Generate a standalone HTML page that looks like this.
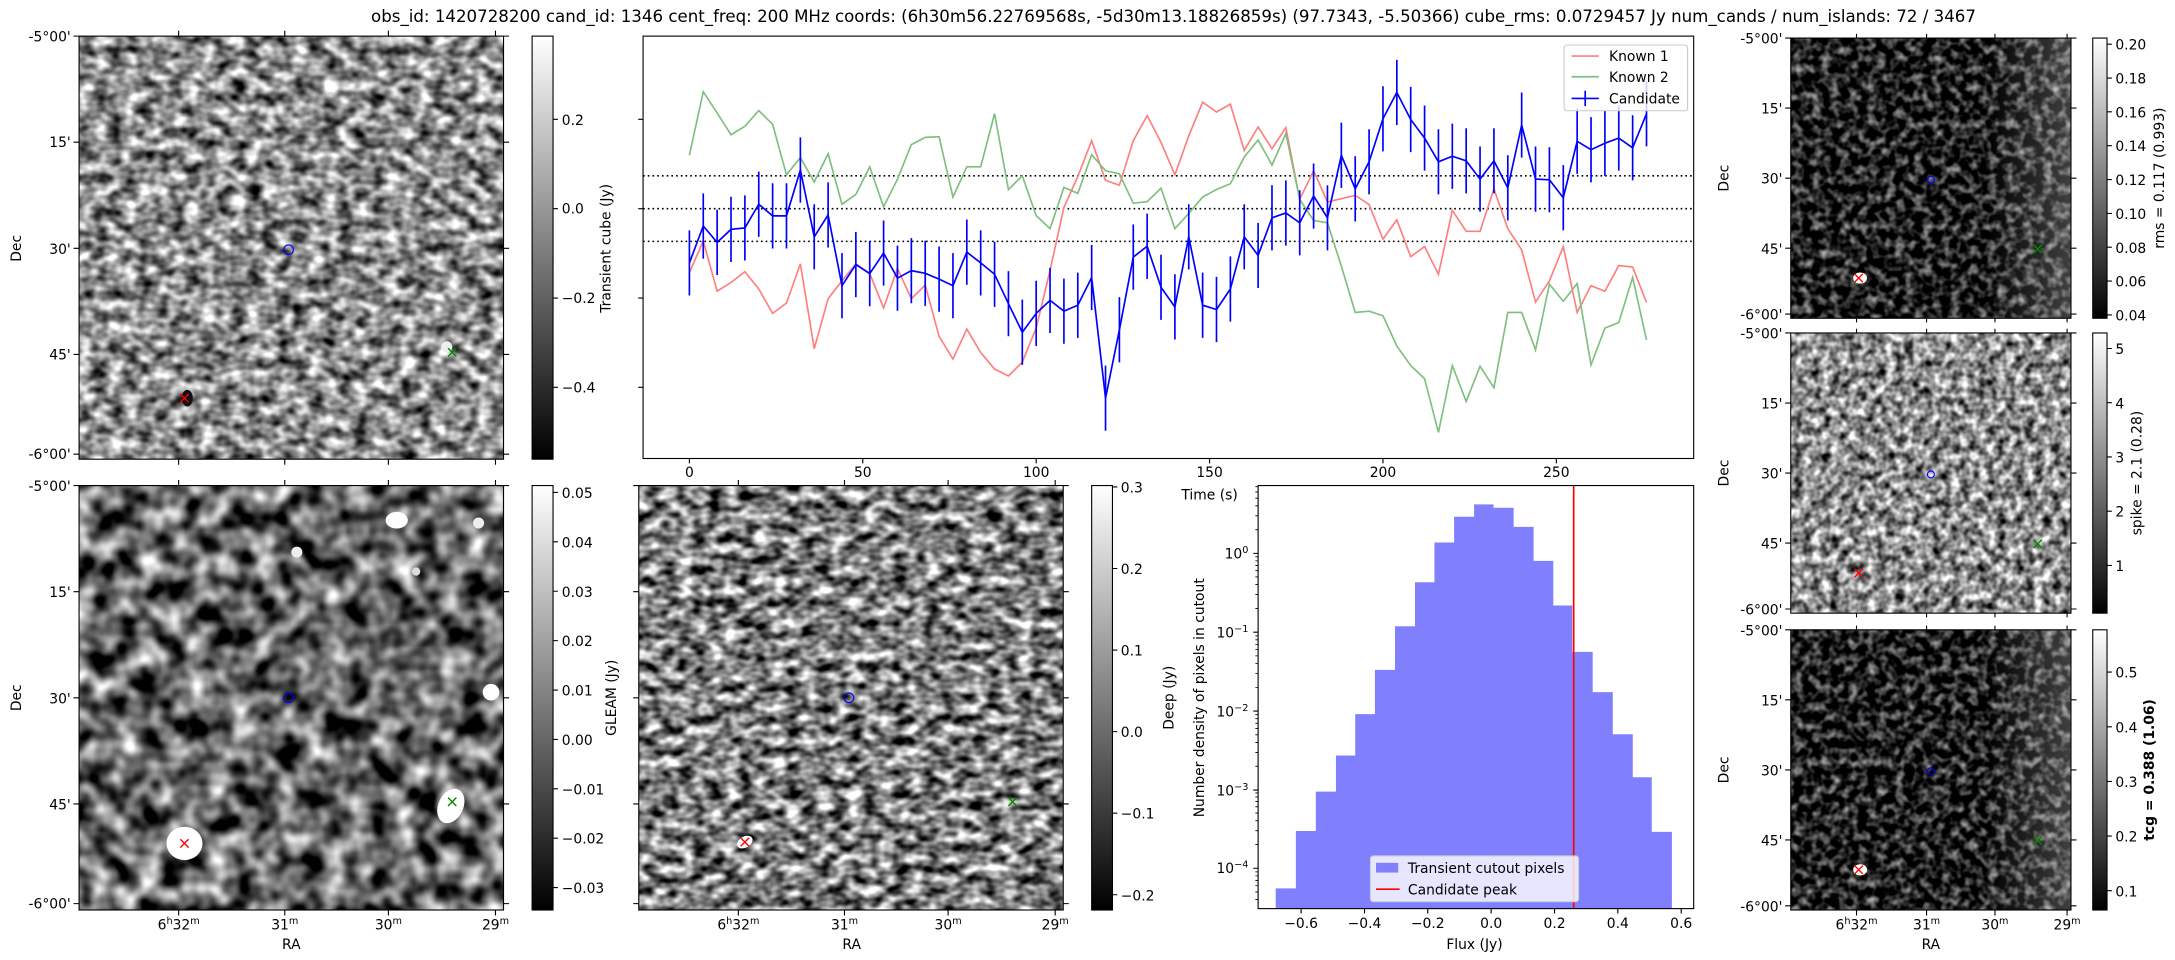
<!DOCTYPE html>
<html><head><meta charset="utf-8"><style>
html,body{margin:0;padding:0;background:#fff;}
svg{display:block;}
text{font-family:"DejaVu Sans","Liberation Sans",sans-serif;fill:#000;}
</style></head><body>
<svg width="2175" height="960" viewBox="0 0 1568 692" xmlns="http://www.w3.org/2000/svg">
<defs>
<filter id="nA" filterUnits="userSpaceOnUse" x="0" y="0" width="1568" height="692" color-interpolation-filters="sRGB">
<feTurbulence type="fractalNoise" baseFrequency="0.09 0.12" numOctaves="2" seed="3"/>
<feColorMatrix type="matrix" values="1.7 0 0 0 -0.3  1.7 0 0 0 -0.3  1.7 0 0 0 -0.3  0 0 0 0 1"/></filter>
<filter id="nC" filterUnits="userSpaceOnUse" x="0" y="0" width="1568" height="692" color-interpolation-filters="sRGB">
<feTurbulence type="fractalNoise" baseFrequency="0.06" numOctaves="2" seed="7"/>
<feColorMatrix type="matrix" values="1.9 0 0 0 -0.55  1.9 0 0 0 -0.55  1.9 0 0 0 -0.55  0 0 0 0 1"/></filter>
<filter id="nD" filterUnits="userSpaceOnUse" x="0" y="0" width="1568" height="692" color-interpolation-filters="sRGB">
<feTurbulence type="fractalNoise" baseFrequency="0.09 0.13" numOctaves="2" seed="11"/>
<feColorMatrix type="matrix" values="1.9 0 0 0 -0.45  1.9 0 0 0 -0.45  1.9 0 0 0 -0.45  0 0 0 0 1"/></filter>
<filter id="nF" filterUnits="userSpaceOnUse" x="0" y="0" width="1568" height="692" color-interpolation-filters="sRGB">
<feTurbulence type="fractalNoise" baseFrequency="0.15" numOctaves="2" seed="5"/>
<feColorMatrix type="matrix" values="1.4 0 0 0 -0.57  1.4 0 0 0 -0.57  1.4 0 0 0 -0.57  0 0 0 0 1"/></filter>
<filter id="nG" filterUnits="userSpaceOnUse" x="0" y="0" width="1568" height="692" color-interpolation-filters="sRGB">
<feTurbulence type="fractalNoise" baseFrequency="0.15" numOctaves="2" seed="9"/>
<feColorMatrix type="matrix" values="1.7 0 0 0 -0.3  1.7 0 0 0 -0.3  1.7 0 0 0 -0.3  0 0 0 0 1"/></filter>
<linearGradient id="cb" x1="0" y1="1" x2="0" y2="0"><stop offset="0" stop-color="#000"/><stop offset="1" stop-color="#fff"/></linearGradient>
<linearGradient id="rb" x1="0" y1="0" x2="1" y2="0"><stop offset="0.7" stop-color="#fff" stop-opacity="0"/><stop offset="1" stop-color="#fff" stop-opacity="0.25"/></linearGradient>
<clipPath id="cA"><rect x="57" y="26" width="306" height="305"/></clipPath>
<clipPath id="cC"><rect x="57" y="350" width="306" height="306"/></clipPath>
<clipPath id="cD"><rect x="460.5" y="350" width="306" height="306"/></clipPath>
<clipPath id="cF"><rect x="1291" y="27.4" width="202" height="202"/></clipPath>
<clipPath id="cG"><rect x="1291" y="240" width="202" height="202"/></clipPath>
<clipPath id="cH"><rect x="1291" y="454" width="202" height="202"/></clipPath>
</defs>

<text x="846" y="16" font-size="12" text-anchor="middle" textLength="1157" lengthAdjust="spacingAndGlyphs">obs_id: 1420728200 cand_id: 1346 cent_freq: 200 MHz coords: (6h30m56.22769568s, -5d30m13.18826859s) (97.7343, -5.50366) cube_rms: 0.0729457 Jy num_cands / num_islands: 72 / 3467</text>

<!-- Panel A -->
<g clip-path="url(#cA)">
<rect x="57" y="26" width="306" height="305" filter="url(#nA)"/>
<ellipse cx="135" cy="287" rx="4" ry="6" fill="#111"/>
<ellipse cx="322" cy="250" rx="4" ry="4" fill="#eee"/>
</g>
<rect x="57" y="26" width="306" height="305" fill="none" stroke="#000" stroke-width="0.8"/>
<circle cx="208" cy="180" r="3.5" fill="none" stroke="#00f" stroke-width="0.8"/>
<path d="M130 284l6 6M136 284l-6 6" stroke="#f00" stroke-width="1"/>
<path d="M323 251l6 6M329 251l-6 6" stroke="#080" stroke-width="1"/>
<path d="M57 26h-4M57 102.5h-4M57 179h-4M57 255.5h-4M57 327.4h-4M363 26h4M363 102.5h4M363 179h4M363 255.5h4M363 327.4h4M128.8 331v4M205.3 331v4M280 331v4M357.2 331v4M128.8 26v-4M205.3 26v-4M280 26v-4M357.2 26v-4" stroke="#000" stroke-width="0.8"/>
<g font-size="10" text-anchor="end">
<text x="51" y="30">-5°00'</text><text x="51" y="106">15'</text><text x="51" y="183">30'</text><text x="51" y="259">45'</text><text x="51" y="331">-6°00'</text>
</g>
<text transform="translate(15,179) rotate(-90)" font-size="10" text-anchor="middle">Dec</text>
<rect x="383.6" y="26" width="15.1" height="305" fill="url(#cb)" stroke="#000" stroke-width="0.8"/>
<path d="M398.7 86h3.5M398.7 150.4h3.5M398.7 214.8h3.5M398.7 279.2h3.5" stroke="#000" stroke-width="0.8"/>
<g font-size="10"><text x="405" y="90">0.2</text><text x="405" y="154">0.0</text><text x="405" y="218.5">−0.2</text><text x="405" y="283">−0.4</text></g>
<text transform="translate(440,179) rotate(-90)" font-size="10" text-anchor="middle">Transient cube (Jy)</text>

<!-- Light curve -->
<rect x="463.6" y="26" width="757.4" height="304.5" fill="none" stroke="#000" stroke-width="0.8"/>
<path d="M463.6 86h-3.5M463.6 150.4h-3.5M463.6 214.8h-3.5M463.6 279.2h-3.5M497 330.5v3.5M622 330.5v3.5M747 330.5v3.5M872 330.5v3.5M997 330.5v3.5M1122 330.5v3.5" stroke="#000" stroke-width="0.8"/>
<g font-size="10" text-anchor="middle"><text x="497" y="344">0</text><text x="622" y="344">50</text><text x="747" y="344">100</text><text x="872" y="344">150</text><text x="997" y="344">200</text><text x="1122" y="344">250</text></g>
<path d="M463.6 126.7H1221M463.6 150.4H1221M463.6 174H1221" stroke="#000" stroke-width="1.1" stroke-dasharray="1.2 2.2"/>
<polyline fill="none" stroke="#ff7f7f" stroke-width="1.2" points="497,196.5 507,173.7 517,209.9 527,203.6 537,195.8 547,208.3 557,225.9 567,218.4 577,190.2 587,251.3 597,215.3 607,202.4 617,190.2 627,197.2 637,221.9 647,193.5 657,215.3 667,205.5 677,242.4 687,258.8 697,237.2 707,254.1 717,266 727,271 737,261 747,236.5 757,194.9 767,149.5 777,127.2 787,101.4 797,130 807,133.5 817,101.4 827,83.3 837,102.6 847,126 857,97.9 867,73.6 877,80.7 887,75 897,108.4 907,91.5 917,107.2 927,92 937,143.7 947,123 957,145.5 967,143.2 977,140.8 987,147.4 997,172.3 1007,158.5 1017,185 1027,177.7 1037,197.7 1047,151.6 1057,166.7 1067,166.7 1077,136.1 1087,164.8 1097,180.1 1107,217.7 1117,202.4 1127,177.7 1137,225.2 1147,205.9 1157,209.9 1167,191.4 1177,192.5 1187,218"/>
<polyline fill="none" stroke="#7fbf7f" stroke-width="1.2" points="497,111.9 507,66.1 517,81.4 527,97.1 537,91 547,79.7 557,89.6 567,126 577,113.6 587,131.2 597,110.8 607,147.2 617,140.1 627,120.2 637,149.1 647,129.1 657,104.2 667,99 677,98.5 687,142 697,120.2 707,120.2 717,81.9 727,136.6 737,126.7 747,155.4 757,164.8 767,135 777,139.4 787,111.5 797,123 807,125.3 817,146.5 827,145.3 837,135.7 847,164.8 857,153.8 867,142 877,136.6 887,132.4 897,113.1 907,100.9 917,119 927,96.2 937,143.7 947,158.9 957,160.6 967,191.8 977,225.2 987,224.3 997,227.6 1007,249.4 1017,263.5 1027,272.9 1037,311.7 1047,263.5 1057,289.4 1067,264 1077,279.5 1087,225.2 1097,225.2 1107,252.2 1117,204.8 1127,217.2 1137,204.3 1147,263 1157,236.5 1167,232.5 1177,200 1187,245"/>
<path fill="none" stroke="#00f" stroke-width="1.2" d="M497 166v47M507 139.4v47M517 151.2v47M527 141.8v47M537 140.8v47M547 123.7v47M557 132.1v47M567 132.1v47M577 99v47M587 147.2v47M597 131.4v47M607 182.4v47M617 167.2v47M627 173.7v47M637 158.9v47M647 177v47M657 171.6v47M667 173.5v47M677 177.7v47M687 182.4v47M697 158.2v47M707 166v47M717 174.2v47M727 195.4v47M737 216v47M747 202.4v47M757 193v47M767 200.8v47M777 196.5v47M787 176.5v47M797 263.5v47M807 214.2v47M817 161.8v47M827 154v47M837 183.6v47M847 197.7v47M857 147.2v47M867 196.5v47M877 199.6v47M887 184.8v47M897 147.2v47M907 160.6v47M917 133.5v47M927 130v47M937 137.1v47M947 117.8v47M957 133.5v47M967 88.4v47M977 112.6v47M987 93.1v47M997 62.1v47M1007 43.1v47M1017 62.6v47M1027 76v47M1037 93.1v47M1047 89.1v47M1057 92.4v47M1067 105.6v47M1077 92.4v47M1087 111.9v47M1097 66.6v47M1107 105.6v47M1117 106.1v47M1127 119v47M1137 78.3v47M1147 84.4v47M1157 79.7v47M1167 76v47M1177 83v47M1187 58.5v47"/>
<polyline fill="none" stroke="#00f" stroke-width="1.2" points="497,189.5 507,162.9 517,174.7 527,165.3 537,164.3 547,147.2 557,155.6 567,155.6 577,122.5 587,170.7 597,154.9 607,205.9 617,190.7 627,197.2 637,182.4 647,200.5 657,195.1 667,197 677,201.2 687,205.9 697,181.7 707,189.5 717,197.7 727,218.9 737,239.5 747,225.9 757,216.5 767,224.3 777,220 787,200 797,287 807,237.7 817,185.3 827,177.5 837,207.1 847,221.2 857,170.7 867,220 877,223.1 887,208.3 897,170.7 907,184.1 917,157 927,153.5 937,160.6 947,141.3 957,157 967,111.9 977,136.1 987,116.6 997,85.6 1007,66.6 1017,86.1 1027,99.5 1037,116.6 1047,112.6 1057,115.9 1067,129.1 1077,115.9 1087,135.4 1097,90.1 1107,129.1 1117,129.6 1127,142.5 1137,101.8 1147,107.9 1157,103.2 1167,99.5 1177,106.5 1187,82"/>
<rect x="1127.6" y="32.4" width="89" height="47.4" rx="2" fill="#fff" fill-opacity="0.8" stroke="#ccc" stroke-width="0.8"/>
<path d="M1133 40.4h19.6" stroke="#ff7f7f" stroke-width="1.2"/>
<path d="M1133 55.3h19.6" stroke="#7fbf7f" stroke-width="1.2"/>
<path d="M1133 70.9h19.6M1142.8 65.4v11" stroke="#00f" stroke-width="1.2"/>
<g font-size="10"><text x="1160" y="44">Known 1</text><text x="1160" y="59">Known 2</text><text x="1160" y="74.5">Candidate</text></g>
<text x="872" y="360" font-size="10" text-anchor="middle">Time (s)</text>

<!-- Panel C GLEAM -->
<g clip-path="url(#cC)">
<rect x="57" y="350" width="306" height="306" filter="url(#nC)"/>
<ellipse cx="133" cy="608" rx="13" ry="12" fill="#fff"/>
<ellipse cx="325" cy="581" rx="9" ry="13" transform="rotate(25 325 581)" fill="#fff"/>
<ellipse cx="286" cy="375" rx="8" ry="6" fill="#fff"/>
<circle cx="214" cy="398" r="4" fill="#eee"/>
<circle cx="354" cy="499" r="6" fill="#fff"/>
<circle cx="345" cy="377" r="4" fill="#eee"/>
<circle cx="300" cy="412" r="3" fill="#ddd"/>
</g>
<rect x="57" y="350" width="306" height="306" fill="none" stroke="#000" stroke-width="0.8"/>
<circle cx="208" cy="503" r="3.5" fill="none" stroke="#00f" stroke-width="0.8"/>
<path d="M130 605l6 6M136 605l-6 6" stroke="#f00" stroke-width="1"/>
<path d="M323 575l6 6M329 575l-6 6" stroke="#080" stroke-width="1"/>
<path d="M57 350h-4M57 426.5h-4M57 503h-4M57 579.5h-4M57 651.4h-4M363 350h4M363 426.5h4M363 503h4M363 579.5h4M363 651.4h4M128.8 656v4M205.3 656v4M280 656v4M357.2 656v4M128.8 350v-4M205.3 350v-4M280 350v-4M357.2 350v-4" stroke="#000" stroke-width="0.8"/>
<g font-size="10" text-anchor="end">
<text x="51" y="354">-5°00'</text><text x="51" y="430.5">15'</text><text x="51" y="507">30'</text><text x="51" y="583.5">45'</text><text x="51" y="655">-6°00'</text>
</g>
<text transform="translate(15,503) rotate(-90)" font-size="10" text-anchor="middle">Dec</text>
<g font-size="10" text-anchor="middle">
<text x="128.8" y="670">6<tspan font-size="7" dy="-4">h</tspan><tspan dy="4">32</tspan><tspan font-size="7" dy="-4">m</tspan></text>
<text x="205.3" y="670">31<tspan font-size="7" dy="-4">m</tspan></text>
<text x="280" y="670">30<tspan font-size="7" dy="-4">m</tspan></text>
<text x="357.2" y="670">29<tspan font-size="7" dy="-4">m</tspan></text>
<text x="210" y="684">RA</text>
</g>
<rect x="383.6" y="350" width="15.1" height="306" fill="url(#cb)" stroke="#000" stroke-width="0.8"/>
<path d="M398.7 355h3.5M398.7 390.6h3.5M398.7 426.2h3.5M398.7 461.8h3.5M398.7 497.4h3.5M398.7 533h3.5M398.7 568.6h3.5M398.7 604.2h3.5M398.7 639.8h3.5" stroke="#000" stroke-width="0.8"/>
<g font-size="10"><text x="405" y="359">0.05</text><text x="405" y="394.6">0.04</text><text x="405" y="430.2">0.03</text><text x="405" y="465.8">0.02</text><text x="405" y="501.4">0.01</text><text x="405" y="537">0.00</text><text x="405" y="572.6">−0.01</text><text x="405" y="608.2">−0.02</text><text x="405" y="643.8">−0.03</text></g>
<text transform="translate(444,503) rotate(-90)" font-size="10" text-anchor="middle">GLEAM (Jy)</text>

<!-- Panel D Deep -->
<g clip-path="url(#cD)">
<rect x="460.5" y="350" width="306" height="306" filter="url(#nD)"/>
<ellipse cx="537" cy="607" rx="6" ry="4" transform="rotate(-30 537 607)" fill="#fff"/>
</g>
<rect x="460.5" y="350" width="306" height="306" fill="none" stroke="#000" stroke-width="0.8"/>
<circle cx="612" cy="503" r="3.5" fill="none" stroke="#00f" stroke-width="0.8"/>
<path d="M534 604l6 6M540 604l-6 6" stroke="#f00" stroke-width="1"/>
<path d="M727 575l6 6M733 575l-6 6" stroke="#080" stroke-width="1"/>
<path d="M460.5 350h-4M460.5 426.5h-4M460.5 503h-4M460.5 579.5h-4M460.5 651.4h-4M766.5 350h4M766.5 426.5h4M766.5 503h4M766.5 579.5h4M766.5 651.4h4M532.3 656v4M608.8 656v4M683.5 656v4M760.7 656v4M532.3 350v-4M608.8 350v-4M683.5 350v-4M760.7 350v-4" stroke="#000" stroke-width="0.8"/>
<g font-size="10" text-anchor="middle">
<text x="532.3" y="670">6<tspan font-size="7" dy="-4">h</tspan><tspan dy="4">32</tspan><tspan font-size="7" dy="-4">m</tspan></text>
<text x="608.8" y="670">31<tspan font-size="7" dy="-4">m</tspan></text>
<text x="683.5" y="670">30<tspan font-size="7" dy="-4">m</tspan></text>
<text x="760.7" y="670">29<tspan font-size="7" dy="-4">m</tspan></text>
<text x="614" y="684">RA</text>
</g>
<rect x="787" y="350" width="15" height="306" fill="url(#cb)" stroke="#000" stroke-width="0.8"/>
<path d="M802 351h3.5M802 409.8h3.5M802 468.6h3.5M802 527.4h3.5M802 586.2h3.5M802 645h3.5" stroke="#000" stroke-width="0.8"/>
<g font-size="10"><text x="808" y="355">0.3</text><text x="808" y="413.8">0.2</text><text x="808" y="472.6">0.1</text><text x="808" y="531.4">0.0</text><text x="808" y="590.2">−0.1</text><text x="808" y="649">−0.2</text></g>
<text transform="translate(846,503) rotate(-90)" font-size="10" text-anchor="middle">Deep (Jy)</text>

<!-- Histogram -->
<path fill="#8080ff" d="M919.7 655V640.4H934.2V599H948.6V570.7H963.1V544.6H977V514.8H991.2V482.9H1005.7V451.4H1020.1V419.7H1034.1V391.1H1048.3V372.5H1062.7V363.6H1076.7V366H1091.2V379.8H1105.6V404.3H1119.8V436.5H1133.5V469.9H1148.2V498.9H1162.7V529.3H1177.1V560.3H1190.8V599.7H1205.3V655Z"/>
<path d="M1134.5 350V655" stroke="#f00" stroke-width="1.2"/>
<rect x="907" y="350" width="314" height="305" fill="none" stroke="#000" stroke-width="0.8"/>
<path d="M907 398.9h-3.5M907 455.7h-3.5M907 512.6h-3.5M907 569.5h-3.5M907 625.9h-3.5M938 655v3.5M983.7 655v3.5M1029.3 655v3.5M1075 655v3.5M1120.7 655v3.5M1166.3 655v3.5M1212 655v3.5" stroke="#000" stroke-width="0.8"/>
<path d="M907 381.8h-2M907 371.8h-2M907 364.6h-2M907 359.1h-2M907 354.6h-2M907 350.8h-2M907 438.6h-2M907 428.6h-2M907 421.4h-2M907 415.9h-2M907 411.4h-2M907 407.6h-2M907 404.3h-2M907 401.4h-2M907 495.5h-2M907 485.5h-2M907 478.3h-2M907 472.8h-2M907 468.3h-2M907 464.5h-2M907 461.2h-2M907 458.3h-2M907 552.4h-2M907 542.4h-2M907 535.2h-2M907 529.7h-2M907 525.2h-2M907 521.4h-2M907 518.1h-2M907 515.2h-2M907 608.8h-2M907 598.8h-2M907 591.6h-2M907 586.1h-2M907 581.6h-2M907 577.8h-2M907 574.5h-2M907 571.6h-2M907 648.5h-2M907 643h-2M907 638.5h-2M907 634.7h-2M907 631.4h-2M907 628.5h-2" stroke="#000" stroke-width="0.6"/>
<g font-size="10" text-anchor="end">
<text x="900" y="402.5">10<tspan font-size="7" dy="-4">0</tspan></text>
<text x="900" y="459.5">10<tspan font-size="7" dy="-4">−1</tspan></text>
<text x="900" y="516.5">10<tspan font-size="7" dy="-4">−2</tspan></text>
<text x="900" y="573.5">10<tspan font-size="7" dy="-4">−3</tspan></text>
<text x="900" y="629.5">10<tspan font-size="7" dy="-4">−4</tspan></text>
</g>
<g font-size="10" text-anchor="middle">
<text x="938" y="669">−0.6</text><text x="983.7" y="669">−0.4</text><text x="1029.3" y="669">−0.2</text><text x="1075" y="669">0.0</text><text x="1120.7" y="669">0.2</text><text x="1166.3" y="669">0.4</text><text x="1212" y="669">0.6</text>
<text x="1063" y="684">Flux (Jy)</text>
</g>
<text transform="translate(868,503) rotate(-90)" font-size="10" text-anchor="middle">Number density of pixels in cutout</text>
<rect x="988" y="617" width="150" height="33" rx="2" fill="#fff" fill-opacity="0.8" stroke="#ccc" stroke-width="0.8"/>
<rect x="992" y="622" width="16" height="7" fill="#8080ff"/>
<path d="M992 641h17" stroke="#f00" stroke-width="1.2"/>
<g font-size="10"><text x="1015" y="629.5">Transient cutout pixels</text><text x="1015" y="645">Candidate peak</text></g>

<!-- Right column -->
<g clip-path="url(#cF)">
<rect x="1291" y="27.4" width="202" height="202" filter="url(#nF)"/>
<rect x="1291" y="27.4" width="202" height="202" fill="url(#rb)"/>
<ellipse cx="1341" cy="200.4" rx="5" ry="4" fill="#fff"/>
</g>
<g clip-path="url(#cG)"><rect x="1291" y="240" width="202" height="202" filter="url(#nG)"/></g>
<g clip-path="url(#cH)">
<rect x="1291" y="454" width="202" height="202" filter="url(#nF)"/>
<rect x="1291" y="454" width="202" height="202" fill="url(#rb)"/>
<ellipse cx="1341" cy="627" rx="5" ry="4" fill="#fff"/>
</g>
<g fill="none" stroke="#000" stroke-width="0.8">
<rect x="1291" y="27.4" width="202" height="202"/><rect x="1291" y="240" width="202" height="202"/><rect x="1291" y="454" width="202" height="202"/>
</g>
<g fill="none" stroke="#00f" stroke-width="0.8">
<circle cx="1392" cy="129.5" r="2.5"/><circle cx="1392" cy="342" r="2.5"/><circle cx="1392" cy="556" r="2.5"/>
</g>
<path d="M1337 197.4l6 6M1343 197.4l-6 6M1337 410l6 6M1343 410l-6 6M1337 624l6 6M1343 624l-6 6" stroke="#f00" stroke-width="1"/>
<path d="M1466 176.5l6 6M1472 176.5l-6 6M1466 389l6 6M1472 389l-6 6M1466 603l6 6M1472 603l-6 6" stroke="#080" stroke-width="1"/>
<path d="M1291 27.4h-4M1291 77.9h-4M1291 128.4h-4M1291 178.9h-4M1291 226.4h-4M1493 27.4h4M1493 77.9h4M1493 128.4h4M1493 178.9h4M1493 226.4h4M1291 240h-4M1291 290.5h-4M1291 341h-4M1291 391.5h-4M1291 439h-4M1493 240h4M1493 290.5h4M1493 341h4M1493 391.5h4M1493 439h4M1291 454h-4M1291 504.5h-4M1291 555h-4M1291 605.5h-4M1291 653h-4M1493 454h4M1493 504.5h4M1493 555h4M1493 605.5h4M1493 653h4M1338.4 229.4v3M1388.9 229.4v3M1438.2 229.4v3M1490.2 229.4v3M1338.4 240v-3M1388.9 240v-3M1438.2 240v-3M1490.2 240v-3M1338.4 442v3M1388.9 442v3M1438.2 442v3M1490.2 442v3M1338.4 454v-3M1388.9 454v-3M1438.2 454v-3M1490.2 454v-3M1338.4 656v4M1388.9 656v4M1438.2 656v4M1490.2 656v4M1338.4 27.4v-3M1388.9 27.4v-3M1438.2 27.4v-3M1490.2 27.4v-3" stroke="#000" stroke-width="0.8"/>
<g font-size="10" text-anchor="end">
<text x="1285" y="31.4">-5°00'</text><text x="1285" y="81.9">15'</text><text x="1285" y="132.4">30'</text><text x="1285" y="182.9">45'</text><text x="1285" y="230.4">-6°00'</text>
<text x="1285" y="244">-5°00'</text><text x="1285" y="294.5">15'</text><text x="1285" y="345">30'</text><text x="1285" y="395.5">45'</text><text x="1285" y="443">-6°00'</text>
<text x="1285" y="458">-5°00'</text><text x="1285" y="508.5">15'</text><text x="1285" y="559">30'</text><text x="1285" y="609.5">45'</text><text x="1285" y="657">-6°00'</text>
</g>
<g font-size="10" text-anchor="middle">
<text transform="translate(1246,128.4) rotate(-90)">Dec</text>
<text transform="translate(1246,341) rotate(-90)">Dec</text>
<text transform="translate(1246,555) rotate(-90)">Dec</text>
<text x="1338.4" y="670">6<tspan font-size="7" dy="-4">h</tspan><tspan dy="4">32</tspan><tspan font-size="7" dy="-4">m</tspan></text>
<text x="1388.9" y="670">31<tspan font-size="7" dy="-4">m</tspan></text>
<text x="1438.2" y="670">30<tspan font-size="7" dy="-4">m</tspan></text>
<text x="1490.2" y="670">29<tspan font-size="7" dy="-4">m</tspan></text>
<text x="1392" y="684">RA</text>
</g>
<g stroke="#000" stroke-width="0.8">
<rect x="1508.7" y="27.4" width="10.3" height="202" fill="url(#cb)"/>
<rect x="1508.7" y="240" width="10.3" height="202" fill="url(#cb)"/>
<rect x="1508.7" y="454" width="10.3" height="202" fill="url(#cb)"/>
<path d="M1519 31.8h3.5M1519 56.2h3.5M1519 80.6h3.5M1519 105h3.5M1519 129.4h3.5M1519 153.8h3.5M1519 178.2h3.5M1519 202.6h3.5M1519 227h3.5M1519 251.2h3.5M1519 290.3h3.5M1519 329.4h3.5M1519 368.5h3.5M1519 407.6h3.5M1519 484.5h3.5M1519 523.9h3.5M1519 563.3h3.5M1519 602.7h3.5M1519 642.1h3.5"/>
</g>
<g font-size="10">
<text x="1525" y="35.8">0.20</text><text x="1525" y="60.2">0.18</text><text x="1525" y="84.6">0.16</text><text x="1525" y="109">0.14</text><text x="1525" y="133.4">0.12</text><text x="1525" y="157.8">0.10</text><text x="1525" y="182.2">0.08</text><text x="1525" y="206.6">0.06</text><text x="1525" y="231">0.04</text>
<text x="1525" y="255.2">5</text><text x="1525" y="294.3">4</text><text x="1525" y="333.4">3</text><text x="1525" y="372.5">2</text><text x="1525" y="411.6">1</text>
<text x="1525" y="488.5">0.5</text><text x="1525" y="527.9">0.4</text><text x="1525" y="567.3">0.3</text><text x="1525" y="606.7">0.2</text><text x="1525" y="646.1">0.1</text>
</g>
<g font-size="10" text-anchor="middle">
<text transform="translate(1560,128.4) rotate(-90)">rms = 0.117 (0.993)</text>
<text transform="translate(1544,341) rotate(-90)">spike = 2.1 (0.28)</text>
<text transform="translate(1553,555) rotate(-90)" font-weight="bold">tcg = 0.388 (1.06)</text>
</g>
</svg>
</body></html>
